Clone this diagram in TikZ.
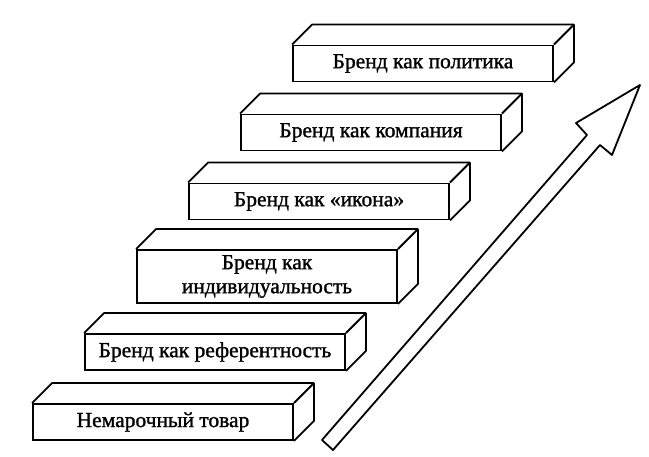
\documentclass[tikz,border=0pt]{standalone}
\usepackage{fontspec}
\setmainfont{Liberation Serif}
\newfontfamily\stairfont[BoldFont={Liberation Serif},BoldFeatures={FakeBold=1.2}]{Liberation Serif}
\begin{document}
\begin{tikzpicture}[x=1pt,y=-1pt,
  stair/.style={draw, line width=1.8pt, fill=white, inner sep=0pt,
    minimum width=260pt, minimum height=36pt, align=center,
    font=\stairfont\bfseries\fontsize{21.5}{24}\selectfont},
  edge/.style={line width=1.8pt, line join=round}]
\useasboundingbox (0,0) rectangle (649,457);
\node[stair] (b1) at (163,422) {Немарочный товар};
\node[stair] (b2) at (215,352) {Бренд как референтность};
\node[stair, minimum height=53pt] (b3) at (267,276.5) {Бренд как\\индивидуальность};
\node[stair] (b4) at (319,201.5) {Бренд как «икона»};
\node[stair] (b5) at (371,132.5) {Бренд как компания};
\node[stair] (b6) at (423,63.5) {Бренд как политика};
\foreach \b in {b1,b2,b3,b4,b5,b6}{
  \draw[edge] (\b.north west) -- ++(20,-20) -| ([shift={(20,-20)}]\b.south east) -- (\b.south east);
  \draw[edge] (\b.north east) -- ++(20,-20);
}
\draw[edge] (322,440) -- (587,135) -- (576,123) -- (640,85) -- (612,155) -- (600,145) -- (333,450) -- cycle;
\end{tikzpicture}
\end{document}
